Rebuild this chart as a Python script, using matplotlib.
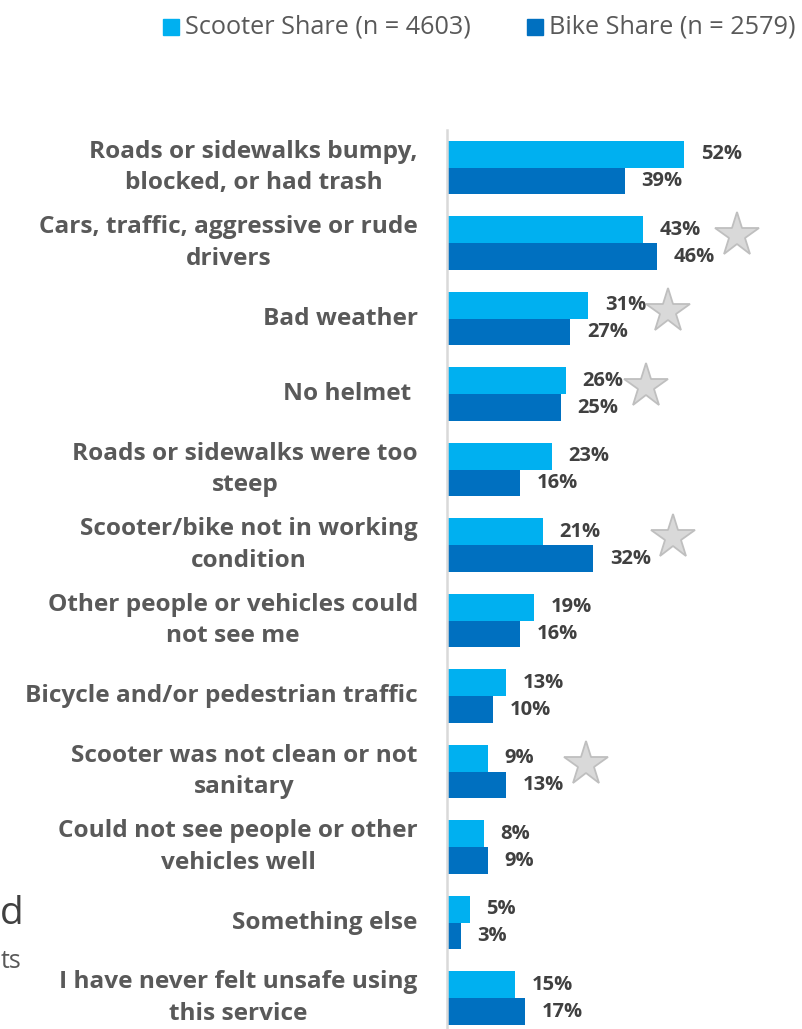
import matplotlib.pyplot as plt
from matplotlib.patches import Rectangle

plt.rcParams['font.family'] = ['Open Sans', 'DejaVu Sans']

categories = [
    'Roads or sidewalks bumpy,\nblocked, or had trash',
    'Cars, traffic, aggressive or rude\ndrivers',
    'Bad weather',
    'No helmet ',
    'Roads or sidewalks were too\nsteep',
    'Scooter/bike not in working\ncondition',
    'Other people or vehicles could\nnot see me',
    'Bicycle and/or pedestrian traffic',
    'Scooter was not clean or not\nsanitary',
    'Could not see people or other\nvehicles well',
    'Something else',
    'I have never felt unsafe using\nthis service',
]
scooter = [52, 43, 31, 26, 23, 21, 19, 13, 9, 8, 5, 15]
bike = [39, 46, 27, 25, 16, 32, 16, 10, 13, 9, 3, 17]
starred = [False, True, True, True, False, True, False, False, True, False, False, False]

scooter_label = 'Scooter Share (n = 4603)'
bike_label = 'Bike Share (n = 2579)'
c_scooter = '#00B0F0'
c_bike = '#0070C0'

W, H = 803, 1029
fig = plt.figure(figsize=(W / 100, H / 100), dpi=100)
ax = fig.add_axes([447 / W, 0, 1 - 447 / W, 1 - 130 / H])

h = 0.357
y = list(range(len(categories)))
ax.barh([i - h / 2 for i in y], scooter, height=h, color=c_scooter)
ax.barh([i + h / 2 for i in y], bike, height=h, color=c_bike)

for i in y:
    ax.annotate(f'{scooter[i]}%', (scooter[i], i - h / 2), xytext=(12, 0),
                textcoords='offset points', va='center', ha='left',
                fontsize=14.5, fontweight='bold', color='#404040')
    ax.annotate(f'{bike[i]}%', (bike[i], i + h / 2), xytext=(12, 0),
                textcoords='offset points', va='center', ha='left',
                fontsize=14.5, fontweight='bold', color='#404040')
    if starred[i]:
        ax.plot(max(scooter[i], bike[i]) + 17.5, i - 0.1, marker='*',
                markersize=33, markerfacecolor='#d9d9d9',
                markeredgecolor='#bfbfbf', markeredgewidth=1.3, clip_on=False)

ax.set_xlim(0, 78)
ax.set_ylim(11.41, -0.497)
ax.set_yticks(y)
ax.set_yticklabels(categories, fontsize=17.6, fontweight='bold', color='#595959',
                   multialignment='center', linespacing=1.4, va='center')
ax.tick_params(axis='y', length=0, pad=21)
ax.set_xticks([])
for s in ['top', 'right', 'bottom']:
    ax.spines[s].set_visible(False)
ax.spines['left'].set_color('#d9d9d9')
ax.spines['left'].set_linewidth(1.8)

# legend
for sx, col, lab in [(163, c_scooter, scooter_label), (527, c_bike, bike_label)]:
    fig.patches.append(Rectangle((sx / W, 1 - 35 / H), 16 / W, 16 / H,
                                 transform=fig.transFigure, color=col))
    fig.text((sx + 22) / W, 1 - 27 / H, lab, fontsize=18.2, color='#595959',
             va='center', ha='left')

# text fragments on left edge
fig.text(0, 1 - 914 / H, 'd', fontsize=28, color='#404040', va='center', ha='left')
fig.text(21 / W, 1 - 962 / H, 'ts', fontsize=18, color='#595959', va='center', ha='right')

fig.savefig('out.png', dpi=100)
